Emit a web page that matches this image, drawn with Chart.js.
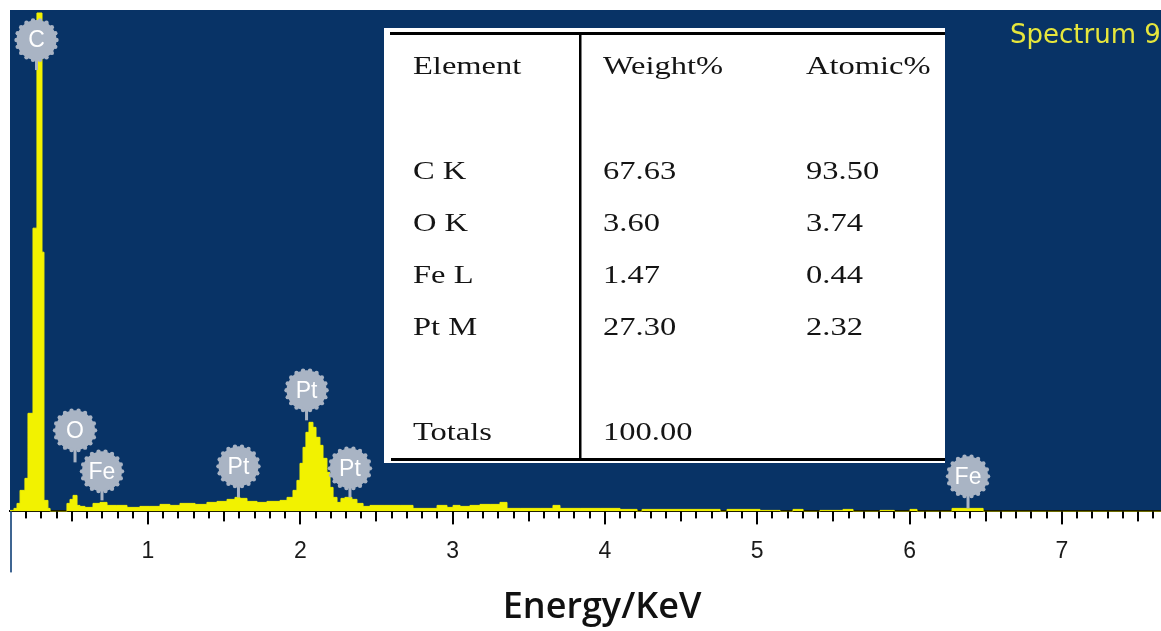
<!DOCTYPE html>
<html>
<head>
<meta charset="utf-8">
<script src="https://cdn.jsdelivr.net/npm/chart.js@4.4.1/dist/chart.umd.min.js"></script>
<style>
  html, body { margin: 0; padding: 0; background: #fff; }
  #wrap { width: 1161px; height: 631px; }
</style>
</head>
<body>
<div id="wrap"><canvas id="edsChart" width="1161" height="631"></canvas></div>
<script>
// EDS spectrum: left edge of each channel step (keV) and its counts
var energy = [0.094, 0.120, 0.140, 0.160, 0.192, 0.212, 0.245, 0.271, 0.304, 0.317,
  0.343, 0.357, 0.468, 0.488, 0.508, 0.534, 0.553, 0.586, 0.639, 0.685,
  0.731, 0.796, 0.862, 0.947, 1.013, 1.079, 1.144, 1.210, 1.309, 1.387,
  1.453, 1.519, 1.571, 1.604, 1.650, 1.716, 1.781, 1.867, 1.913, 1.952,
  1.978, 1.998, 2.018, 2.037, 2.057, 2.083, 2.103, 2.129, 2.149, 2.175,
  2.195, 2.215, 2.241, 2.267, 2.293, 2.339, 2.372, 2.412, 2.458, 2.556,
  2.655, 2.740, 2.898, 2.963, 3.003, 3.049, 3.114, 3.180, 3.246, 3.311,
  3.357, 3.443, 3.574, 3.659, 3.705, 3.837, 3.968, 4.099, 4.211, 4.244,
  4.493, 4.756, 4.802, 5.018, 5.150, 5.235, 5.301, 5.412, 5.563, 5.629,
  5.806, 5.900, 6.003, 6.049, 6.279, 6.483, 7.651];
var counts = [1, 3, 8, 21, 33, 98, 283, 498, 259, 11,
  3, 0, 8, 12, 16, 6, 5, 4, 8, 9,
  6, 6, 4, 5, 5, 7, 6, 8, 7, 9,
  10, 12, 14, 13, 10, 9, 10, 11, 14, 21,
  31, 48, 64, 79, 89, 84, 74, 66, 53, 39,
  24, 14, 9, 13, 14, 12, 8, 5, 6, 6,
  6, 3, 6, 4, 6, 5, 6, 7, 7, 9,
  3, 3, 3, 6, 3, 3, 3, 2, 0, 2,
  2, 0, 2, 1, 0, 2, 0, 1, 2, 0,
  1, 0, 2, 0, 3, 0, 0];

// element markers on the peaks
var peakNames = ['C', 'O', 'Fe', 'Pt', 'Pt', 'Pt', 'Fe'];
var peakEnergy = [0.268, 0.521, 0.698, 1.594, 2.041, 2.326, 6.384];
var peakMark = [471, 81, 40, 45, 121, 43, 35];   // counts where the marker sits
var peakFoot = [441, 49, 11, 14, 91, 14, 3];     // counts where the stem ends

// quantification table
var tableHeader = ['Element', 'Weight%', 'Atomic%'];
var tableElements = ['C K', 'O K', 'Fe L', 'Pt M'];
var tableWeight = ['67.63', '3.60', '1.47', '27.30'];
var tableAtomic = ['93.50', '3.74', '0.44', '2.32'];
var tableTotal = ['Totals', '100.00'];

var xMin = 0.094, xMax = 7.651, yMax = 500;
var spectrumName = 'Spectrum 9';
var axisTitle = 'Energy/KeV';

var points = energy.map(function(e, i) { return {x: e, y: counts[i]}; });

var backdrop = {
  id: 'backdrop',
  beforeDraw: function(chart) {
    var a = chart.chartArea, c = chart.ctx;
    c.save();
    c.fillStyle = '#083366';
    c.fillRect(a.left, a.top - 1, a.right - a.left, a.bottom - a.top + 1);
    c.restore();
  }
};

function balloon(c, cx, cy, footY, text) {
  var r = 20;
  c.fillStyle = '#a9b4c4';
  c.fillRect(cx - 1.5, cy, 3, footY - cy);
  c.beginPath();
  c.arc(cx, cy, r, 0, Math.PI * 2);
  c.fill();
  for (var k = 0; k < 18; k++) {
    var ang = k * Math.PI / 9;
    c.beginPath();
    c.arc(cx + Math.cos(ang) * r, cy + Math.sin(ang) * r, 2.2, 0, Math.PI * 2);
    c.fill();
  }
  c.fillStyle = '#ffffff';
  c.font = '23px "Liberation Sans", Arial, sans-serif';
  c.textAlign = 'center';
  c.textBaseline = 'middle';
  c.fillText(text, cx, cy + 1);
}

function serif(c, s, x, y) {
  c.save();
  c.translate(x, y);
  c.scale(1.25, 1);
  c.fillText(s, 0, 0);
  c.restore();
}

var overlay = {
  id: 'overlay',
  afterDraw: function(chart) {
    var c = chart.ctx, a = chart.chartArea;
    var xs = chart.scales.x, ys = chart.scales.y;
    c.save();

    // tick marks: every 0.1 keV, longer at 0.5 and 1
    c.fillStyle = '#000';
    for (var i = 1; i <= 76; i++) {
      var px = Math.round(xs.getPixelForValue(i / 10));
      var len = i % 10 === 0 ? 13 : (i % 5 === 0 ? 10 : 7);
      c.fillRect(px - 1, a.bottom, 2, len);
    }
    // left frame line below the plot
    c.fillStyle = '#3f6592';
    c.fillRect(a.left, a.bottom, 2, 61);

    // element markers
    for (var j = 0; j < peakNames.length; j++) {
      balloon(c, xs.getPixelForValue(peakEnergy[j]), ys.getPixelForValue(peakMark[j]),
        ys.getPixelForValue(peakFoot[j]), peakNames[j]);
    }

    // table
    c.fillStyle = '#fff';
    c.fillRect(384, 28, 561, 435);
    c.fillStyle = '#000';
    c.fillRect(390, 32, 555, 3);
    c.fillRect(391, 458, 554, 3);
    c.fillRect(579, 34, 2.5, 425);
    c.fillStyle = '#141414';
    c.font = '26px "Liberation Serif", "Times New Roman", serif';
    c.textAlign = 'left';
    c.textBaseline = 'alphabetic';
    var cols = [413, 603, 806];
    for (var h = 0; h < 3; h++) serif(c, tableHeader[h], cols[h], 74);
    for (var r = 0; r < tableElements.length; r++) {
      var by = 179 + r * 52;
      serif(c, tableElements[r], cols[0], by);
      serif(c, tableWeight[r], cols[1], by);
      serif(c, tableAtomic[r], cols[2], by);
    }
    serif(c, tableTotal[0], cols[0], 440);
    serif(c, tableTotal[1], cols[1], 440);

    // spectrum name
    c.fillStyle = '#e6e63c';
    c.font = '26px "DejaVu Sans", sans-serif';
    c.fillText(spectrumName, 1010, 43);

    // axis title
    c.fillStyle = '#111';
    c.font = '600 36px "Open Sans", sans-serif';
    c.textAlign = 'center';
    c.fillText(axisTitle, 602, 618);
    c.restore();
  }
};

var ctx = document.getElementById('edsChart').getContext('2d');
var edsChart = new Chart(ctx, {
  type: 'line',
  data: {
    datasets: [{
      data: points,
      stepped: true,
      fill: 'origin',
      backgroundColor: '#f2f200',
      borderColor: '#f2f200',
      borderWidth: 1,
      pointRadius: 0
    }]
  },
  options: {
    responsive: false,
    animation: false,
    devicePixelRatio: 1,
    layout: { padding: { left: 10, right: 0, top: 11, bottom: 66 } },
    plugins: { legend: { display: false }, tooltip: { enabled: false } },
    scales: {
      x: {
        type: 'linear',
        min: xMin,
        max: xMax,
        z: 1,
        // invisible tick marks only reserve room; the real ticks are drawn in the overlay
        grid: { display: true, drawOnChartArea: false, drawTicks: true, tickLength: 26, tickColor: 'rgba(0,0,0,0)' },
        border: { display: true, color: '#000', width: 2 },
        ticks: {
          stepSize: 1,
          includeBounds: false,
          autoSkip: false,
          maxRotation: 0,
          padding: 0,
          color: '#1a1a1a',
          font: { family: '"Liberation Sans", Arial, sans-serif', size: 23 },
          callback: function(v) { return Number.isInteger(v) ? String(v) : ''; }
        }
      },
      y: {
        display: false,
        min: 0,
        max: yMax
      }
    }
  },
  plugins: [backdrop, overlay]
});
</script>
</body>
</html>
